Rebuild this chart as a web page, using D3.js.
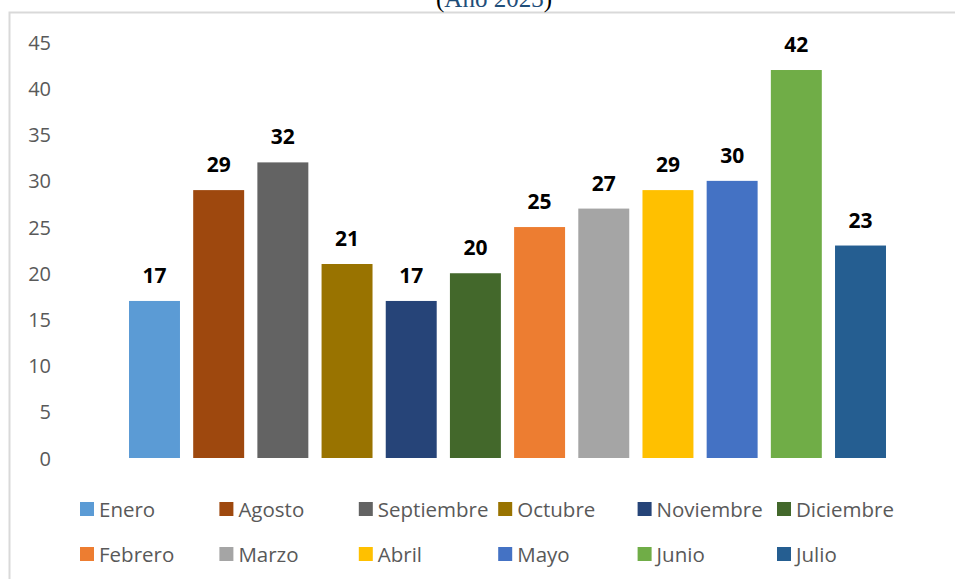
<!DOCTYPE html>
<html>
<head>
<meta charset="utf-8">
<script src="https://cdn.jsdelivr.net/npm/d3@7"></script>
<style>
  body { margin: 0; background: #fff; }
  svg { display: block; }
</style>
</head>
<body>
<div id="chart"></div>
<script>
const svgWidth = 955;
const svgHeight = 579;

// data
const months = ["Enero", "Agosto", "Septiembre", "Octubre", "Noviembre", "Diciembre",
  "Febrero", "Marzo", "Abril", "Mayo", "Junio", "Julio"];
const counts = [17, 29, 32, 21, 17, 20, 25, 27, 29, 30, 42, 23];
const yTicks = [0, 5, 10, 15, 20, 25, 30, 35, 40, 45];
const colors = ["#5B9BD5", "#9E480E", "#636363", "#997300", "#264478", "#43682B",
  "#ED7D31", "#A5A5A5", "#FFC000", "#4472C4", "#70AD47", "#255E91"];

const data = months.map((m, i) => ({ month: m, value: counts[i], color: colors[i] }));

const svg = d3.select("#chart")
  .append("svg")
  .attr("width", svgWidth)
  .attr("height", svgHeight);

// chart frame (only top and left edges visible)
svg.append("path")
  .attr("d", `M9.5,${svgHeight} V12.5 H${svgWidth}`)
  .attr("fill", "none")
  .attr("stroke", "#d9d9d9")
  .attr("stroke-width", 2);

// title, cut off at the top like the original
const title = svg.append("text")
  .attr("x", 494)
  .attr("y", 7)
  .attr("text-anchor", "middle")
  .style("font-family", "'Liberation Serif', 'Times New Roman', serif")
  .style("font-size", "25px");
title.append("tspan").attr("fill", "#000").text("(");
title.append("tspan").attr("fill", "#1F4E79").text("Año 2023");
title.append("tspan").attr("fill", "#000").text(")");

// scales
const x = d3.scaleBand()
  .domain(months)
  .range([122.4, 892.6])
  .paddingInner(0.206)
  .paddingOuter(0.103);

const y = d3.scaleLinear()
  .domain([0, 45])
  .range([458, 42.3]);

// y axis, labels only
const leftAxis = d3.axisLeft(y).tickValues(yTicks).tickSize(0).tickPadding(0);
const yAxisG = svg.append("g")
  .attr("transform", "translate(51,0)")
  .call(leftAxis);
yAxisG.select(".domain").remove();
yAxisG.selectAll("text")
  .attr("fill", "#595959")
  .attr("dy", "0.35em")
  .style("font-family", "'Open Sans', sans-serif")
  .style("font-size", "20px");

// bars
svg.selectAll("rect.bar")
  .data(data)
  .join("rect")
  .attr("class", "bar")
  .attr("x", d => x(d.month))
  .attr("y", d => y(d.value))
  .attr("width", x.bandwidth())
  .attr("height", d => y(0) - y(d.value))
  .attr("fill", d => d.color);

// value labels
svg.selectAll("text.val")
  .data(data)
  .join("text")
  .attr("class", "val")
  .attr("x", d => x(d.month) + x.bandwidth() / 2)
  .attr("y", d => y(d.value) - 18)
  .attr("text-anchor", "middle")
  .attr("fill", "#000")
  .style("font-family", "'Open Sans', sans-serif")
  .style("font-weight", "bold")
  .style("font-size", "21px")
  .text(d => d.value);

// legend: two rows of six
const legend = svg.selectAll("g.legend")
  .data(data)
  .join("g")
  .attr("class", "legend")
  .attr("transform", (d, i) => `translate(${80 + (i % 6) * 139.4}, ${i < 6 ? 502 : 547})`);

legend.append("rect")
  .attr("width", 14)
  .attr("height", 14)
  .attr("fill", d => d.color);

legend.append("text")
  .attr("x", 19)
  .attr("y", 14.5)
  .attr("fill", "#595959")
  .style("font-family", "'Open Sans', sans-serif")
  .style("font-size", "20.5px")
  .text(d => d.month);
</script>
</body>
</html>
